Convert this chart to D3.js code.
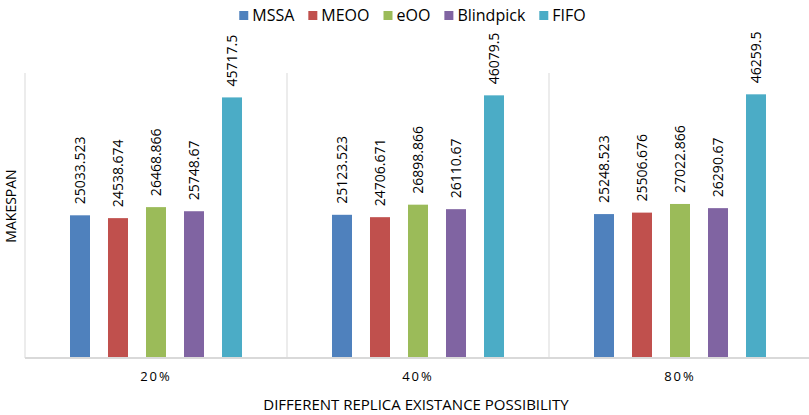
<!DOCTYPE html>
<html>
<head>
<meta charset="utf-8">
<script src="https://cdn.jsdelivr.net/npm/d3@7"></script>
<style>
  html, body { margin: 0; padding: 0; background: #fff; }
  svg { display: block; font-family: "Open Sans", Lato, sans-serif; }
</style>
</head>
<body>
<svg id="chart" width="809" height="415"></svg>
<script>
// Replica existence possibility groups
const categories = ["20%", "40%", "80%"];
// Scheduling strategies
const series = ["MSSA", "MEOO", "eOO", "Blindpick", "FIFO"];
const colors = ["#4f81bd", "#c0504d", "#9bbb59", "#8064a2", "#4bacc6"];
// Makespan per strategy, one entry per group
const MSSA      = [25033.523, 25123.523, 25248.523];
const MEOO      = [24538.674, 24706.671, 25506.676];
const eOO       = [26468.866, 26898.866, 27022.866];
const Blindpick = [25748.67,  26110.67,  26290.67];
const FIFO      = [45717.5,   46079.5,   46259.5];
const yMax = 50000;

const values = { MSSA, MEOO, eOO, Blindpick, FIFO };

const svg = d3.select("#chart");
const plot = { left: 25, right: 811, top: 73, bottom: 358 };

const x0 = d3.scaleBand().domain(categories).range([plot.left, plot.right]).padding(0);
const x1 = d3.scaleBand().domain(series).range([0, x0.bandwidth()])
  .paddingInner(0.4737).paddingOuter(1.184);
const y = d3.scaleLinear().domain([0, yMax]).range([plot.bottom, plot.top]);
const color = d3.scaleOrdinal().domain(series).range(colors);

// Vertical separators between groups
const edges = categories.map(c => x0(c)).concat([x0.range()[1]]);
svg.append("g").selectAll("line").data(edges).join("line")
  .attr("x1", d => d).attr("x2", d => d)
  .attr("y1", y(yMax)).attr("y2", y(0))
  .attr("stroke", "#d9d9d9").attr("stroke-width", 1);

// Bars
const groups = svg.append("g").selectAll("g").data(categories).join("g")
  .attr("transform", c => `translate(${x0(c)},0)`);

groups.selectAll("rect")
  .data((c, i) => series.map(s => ({ s, v: values[s][i] })))
  .join("rect")
  .attr("x", d => x1(d.s))
  .attr("width", x1.bandwidth())
  .attr("y", d => y(d.v))
  .attr("height", d => y(0) - y(d.v))
  .attr("fill", d => color(d.s));

// Value labels, rotated above each bar
groups.selectAll("text.val")
  .data((c, i) => series.map(s => ({ s, v: values[s][i] })))
  .join("text")
  .attr("class", "val")
  .attr("transform", d => `translate(${x1(d.s) + x1.bandwidth() / 2},${y(d.v) - 11}) rotate(-90)`)
  .attr("dy", "0.35em")
  .attr("font-size", 14)
  .attr("fill", "#000")
  .text(d => String(d.v));

// Category axis along the baseline
const xAxis = svg.append("g")
  .attr("transform", `translate(0,${plot.bottom})`)
  .call(d3.axisBottom(x0).tickSize(0).tickPadding(14));
xAxis.select(".domain").attr("stroke", "#d9d9d9").attr("stroke-width", 2)
  .attr("d", `M${plot.left},0H${plot.right}`);
xAxis.selectAll(".tick text")
  .attr("font-family", "'Open Sans', Lato, sans-serif")
  .attr("font-size", 13).attr("fill", "#000")
  .attr("letter-spacing", "2px");

// Axis titles
svg.append("text")
  .attr("x", 416).attr("y", 410)
  .attr("text-anchor", "middle").attr("font-size", 15).attr("fill", "#000")
  .text("DIFFERENT REPLICA EXISTANCE POSSIBILITY");

svg.append("text")
  .attr("transform", "translate(16,206) rotate(-90)")
  .attr("text-anchor", "middle").attr("font-size", 14).attr("fill", "#000")
  .text("MAKESPAN");

// Legend, laid out left to right and centred
const legend = svg.append("g");
const items = legend.selectAll("g").data(series).join("g");
items.append("rect").attr("width", 9).attr("height", 9).attr("y", 11)
  .attr("fill", d => color(d));
items.append("text").attr("x", 13).attr("y", 21)
  .attr("font-size", 16).attr("fill", "#000").text(d => d);
let cx = 0;
items.each(function () {
  const w = d3.select(this).select("text").node().getComputedTextLength();
  d3.select(this).attr("transform", `translate(${cx},0)`);
  cx += 13 + w + 14;
});
const total = cx - 14;
legend.attr("transform", `translate(${(242 + 583) / 2 - total / 2},0)`);
</script>
</body>
</html>
